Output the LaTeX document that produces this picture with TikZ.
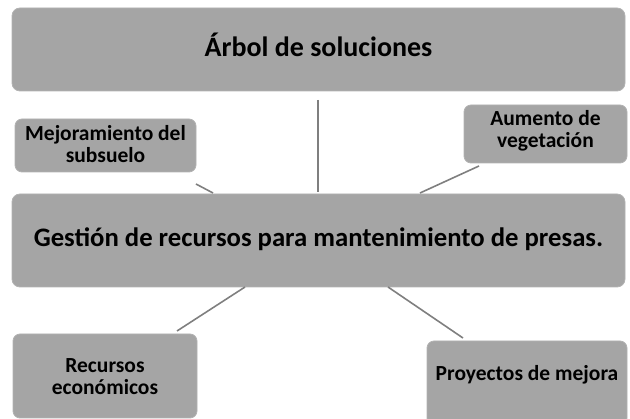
\documentclass[tikz,border=0pt]{standalone}
\usepackage{fontspec}
\setmainfont{Carlito}
\usepackage{xcolor}
\definecolor{boxgray}{HTML}{A5A5A5}
\definecolor{linegray}{HTML}{7F7F7F}

\begin{document}
\begin{tikzpicture}[x=1pt, y=-1pt, font=\bfseries,
  bx/.style={fill=boxgray, draw=boxgray!85!white, line width=0.8pt,
             rounded corners=8pt, align=center, inner sep=0pt},
  big/.style={bx, minimum width=613pt},
  small/.style={bx, rounded corners=7pt, font=\bfseries\fontsize{21.5}{22}\selectfont},
  ln/.style={draw=linegray, line width=1.6pt}]
\useasboundingbox (0,0) rectangle (630,419);
\clip (0,0) rectangle (630,419);
% title and central problem
\node[big, minimum height=83pt, text height=20pt, text depth=5pt,
      font=\bfseries\fontsize{28}{30}\selectfont] (arbol) at (318.5,49.5) {Árbol de soluciones};
\node[big, minimum height=93pt, text height=19pt, text depth=6pt,
      font=\bfseries\fontsize{26.7}{30}\selectfont] (gestion) at (318.5,240.5) {Gestión de recursos para mantenimiento de presas.};
% branches
\node[small, minimum width=181pt, minimum height=53pt, text height=40pt, text depth=5pt]
  (mejora) at (105.5,145.5) {Mejoramiento del\\subsuelo};
\node[small, minimum width=163pt, minimum height=58pt, text height=34pt, text depth=6pt]
  (aumento) at (545.5,134) {Aumento de\\vegetación};
\node[small, minimum width=184pt, minimum height=84pt, text height=43pt, text depth=5pt]
  (recursos) at (105,376) {Recursos\\económicos};
\node[small, minimum width=200pt, minimum height=84pt, text height=15pt, text depth=19pt]
  (proyectos) at (527,383) {Proyectos de mejora};
% free ends of the connectors
\coordinate (va) at (318,100);  \coordinate (vb) at (318,192);
\coordinate (ma) at (196,184);  \coordinate (mb) at (213,193);
\coordinate (aa) at (479,166);  \coordinate (ab) at (420,193);
\coordinate (ra) at (245,287);  \coordinate (rb) at (177,331);
\coordinate (pa) at (388,287);  \coordinate (pb) at (463,338);
\draw[ln] (va)--(vb); \draw[ln] (ma)--(mb); \draw[ln] (aa)--(ab);
\draw[ln] (ra)--(rb); \draw[ln] (pa)--(pb);
\end{tikzpicture}
\end{document}
